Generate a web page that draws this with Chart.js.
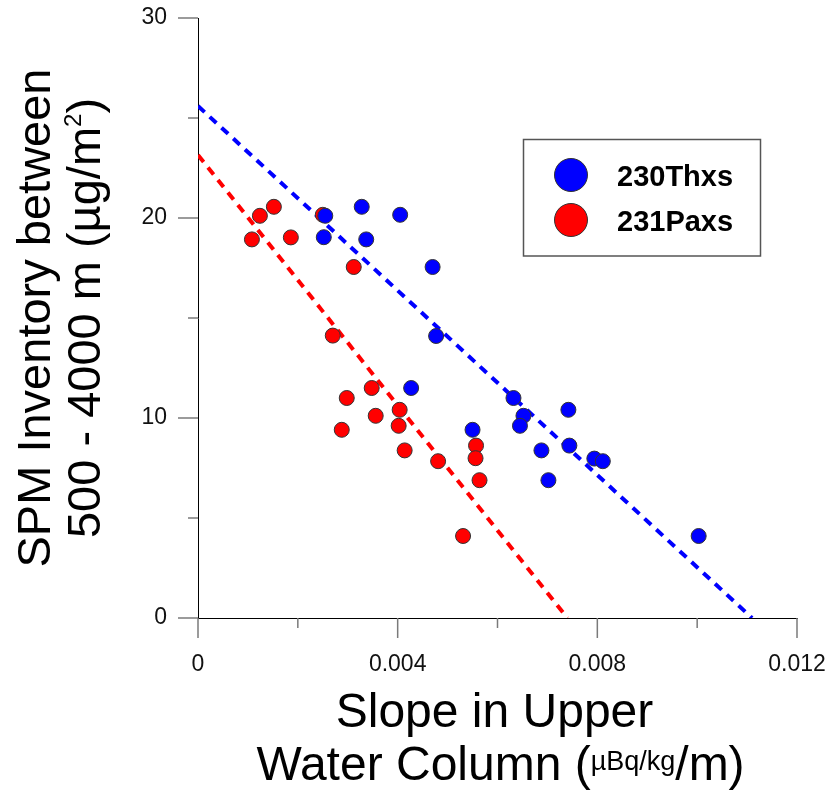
<!DOCTYPE html>
<html>
<head>
<meta charset="utf-8">
<script src="https://cdn.jsdelivr.net/npm/chart.js@4.4.1/dist/chart.umd.min.js"></script>
<style>
  html, body { margin: 0; padding: 0; background: #fff; }
  #wrap { width: 832px; height: 792px; }
</style>
</head>
<body>
<div id="wrap"><canvas id="chart" width="832" height="792"></canvas></div>
<script>
// 230Thxs points (slope, inventory)
const thX = [0.00255, 0.00328, 0.00405, 0.00252, 0.00337, 0.00470, 0.00477, 0.00427, 0.00550, 0.00632,
             0.00652, 0.00645, 0.00742, 0.00744, 0.00688, 0.00794, 0.00811, 0.00702, 0.01003];
const thY = [20.11, 20.56, 20.16, 19.04, 18.93, 17.55, 14.10, 11.50, 9.41, 11.00,
             10.11, 9.61, 10.41, 8.62, 8.38, 7.97, 7.84, 6.89, 4.10];

// 231Paxs points
const paX = [0.00124, 0.00152, 0.00108, 0.00186, 0.00250, 0.00312, 0.00270, 0.00298, 0.00348, 0.00356,
             0.00288, 0.00404, 0.00402, 0.00414, 0.00481, 0.00557, 0.00556, 0.00564, 0.00531];
const paY = [20.11, 20.56, 18.93, 19.03, 20.16, 17.55, 14.12, 11.00, 11.50, 10.11,
             9.41, 10.41, 9.61, 8.38, 7.84, 8.62, 7.99, 6.89, 4.10];

// fitted lines (end points)
const thFitX = [0, 0.0111];
const thFitY = [25.6, 0];
const paFitX = [0, 0.0074];
const paFitY = [23.15, 0];

// axes
const xMajor = [0, 0.004, 0.008, 0.012];
const xMinor = [0.002, 0.006, 0.010];
const xTickLabels = ['0', '0.004', '0.008', '0.012'];
const yMajor = [0, 10, 20, 30];
const yMinor = [5, 15, 25];
const yTickLabels = ['0', '10', '20', '30'];

const seriesNames = ['230Thxs', '231Paxs'];
const FONT = "Arial, 'Liberation Sans', sans-serif";

const pts = (xs, ys) => xs.map((x, i) => ({ x: x, y: ys[i] }));

// tick marks, axis titles and legend box
const decorPlugin = {
    id: 'decor',
    afterDraw(chart) {
        const ctx = chart.ctx;
        const xs = chart.scales.x, ys = chart.scales.y;
        const area = chart.chartArea;

        ctx.save();
        ctx.strokeStyle = '#7a7a7a';
        ctx.lineWidth = 1.5;
        const tick = (x1, y1, x2, y2) => {
            ctx.beginPath(); ctx.moveTo(x1, y1); ctx.lineTo(x2, y2); ctx.stroke();
        };
        xMajor.forEach(v => { const p = xs.getPixelForValue(v); tick(p, area.bottom, p, area.bottom + 20); });
        xMinor.forEach(v => { const p = xs.getPixelForValue(v); tick(p, area.bottom, p, area.bottom + 10); });
        yMajor.forEach(v => { const p = ys.getPixelForValue(v); tick(area.left, p, area.left - 20, p); });
        yMinor.forEach(v => { const p = ys.getPixelForValue(v); tick(area.left, p, area.left - 10, p); });
        ctx.restore();

        // y title (rotated)
        ctx.save();
        ctx.fillStyle = '#000';
        ctx.textBaseline = 'alphabetic';
        ctx.textAlign = 'left';
        const cy = (area.top + area.bottom) / 2;
        ctx.font = '47px ' + FONT;
        let w = ctx.measureText('SPM Inventory between').width;
        ctx.translate(50, cy);
        ctx.rotate(-Math.PI / 2);
        ctx.fillText('SPM Inventory between', -w / 2, 0);
        ctx.restore();

        ctx.save();
        ctx.fillStyle = '#000';
        ctx.textAlign = 'left';
        ctx.translate(100, cy);
        ctx.rotate(-Math.PI / 2);
        ctx.font = '47px ' + FONT;
        const a1 = '500 - 4000 m (\u00b5g/m', a3 = ')';
        const w1 = ctx.measureText(a1).width, w3 = ctx.measureText(a3).width;
        ctx.font = '24px ' + FONT;
        const w2 = ctx.measureText('2').width;
        let sx = -(w1 + w2 + w3) / 2;
        ctx.font = '47px ' + FONT;
        ctx.fillText(a1, sx, 0);
        ctx.font = '24px ' + FONT;
        ctx.fillText('2', sx + w1, -19);
        ctx.font = '47px ' + FONT;
        ctx.fillText(a3, sx + w1 + w2, 0);
        ctx.restore();

        // x title
        ctx.save();
        ctx.fillStyle = '#000';
        ctx.textAlign = 'left';
        const cx = (area.left + area.right) / 2;
        ctx.font = '48px ' + FONT;
        w = ctx.measureText('Slope in Upper').width;
        ctx.fillText('Slope in Upper', cx - 3 - w / 2, 727);
        const b1 = 'Water Column (', b2 = '\u00b5Bq/kg', b3 = '/m)';
        const v1 = ctx.measureText(b1).width, v3 = ctx.measureText(b3).width;
        ctx.font = '27px ' + FONT;
        const v2 = ctx.measureText(b2).width;
        sx = cx + 3 - (v1 + v2 + v3) / 2;
        ctx.font = '48px ' + FONT;
        ctx.fillText(b1, sx, 780);
        ctx.font = '27px ' + FONT;
        ctx.fillText(b2, sx + v1, 770);
        ctx.font = '48px ' + FONT;
        ctx.fillText(b3, sx + v1 + v2, 780);
        ctx.restore();

        // legend
        ctx.save();
        ctx.fillStyle = '#fff';
        ctx.strokeStyle = '#555';
        ctx.lineWidth = 1.5;
        ctx.fillRect(523.5, 139.5, 237, 116.5);
        ctx.strokeRect(523.5, 139.5, 237, 116.5);
        const cols = ['#0000ff', '#ff0000'];
        const rows = [175, 220];
        seriesNames.forEach((name, i) => {
            ctx.beginPath();
            ctx.arc(571, rows[i], 16.5, 0, Math.PI * 2);
            ctx.fillStyle = cols[i];
            ctx.fill();
            ctx.strokeStyle = '#333';
            ctx.lineWidth = 1;
            ctx.stroke();
            ctx.fillStyle = '#000';
            ctx.font = 'bold 29px ' + FONT;
            ctx.textBaseline = 'alphabetic';
            ctx.fillText(name, 617, rows[i] + 11);
        });
        ctx.restore();
    }
};

function makeChart() {
    const ctx = document.getElementById('chart').getContext('2d');
    new Chart(ctx, {
        type: 'scatter',
        data: {
            datasets: [
                {
                    label: seriesNames[0],
                    data: pts(thX, thY),
                    backgroundColor: '#0000ff',
                    borderColor: '#333',
                    borderWidth: 1,
                    pointRadius: 7.5,
                    order: 0
                },
                {
                    label: seriesNames[1],
                    data: pts(paX, paY),
                    backgroundColor: '#ff0000',
                    borderColor: '#333',
                    borderWidth: 1,
                    pointRadius: 7.5,
                    order: 1
                },
                {
                    type: 'line',
                    label: 'fit Th',
                    data: pts(thFitX, thFitY),
                    borderColor: '#0000ff',
                    borderWidth: 4,
                    borderDash: [9, 7],
                    pointRadius: 0,
                    fill: false,
                    order: 2
                },
                {
                    type: 'line',
                    label: 'fit Pa',
                    data: pts(paFitX, paFitY),
                    borderColor: '#ff0000',
                    borderWidth: 4,
                    borderDash: [9, 7],
                    pointRadius: 0,
                    fill: false,
                    order: 3
                }
            ]
        },
        options: {
            responsive: false,
            animation: false,
            layout: { padding: { top: 18, right: 35, left: 0, bottom: 0 } },
            plugins: {
                legend: { display: false },
                tooltip: { enabled: false }
            },
            scales: {
                x: {
                    type: 'linear',
                    min: 0,
                    max: 0.012,
                    afterFit: s => {
                        s.height = 174;
                        s.paddingLeft = 0; s.paddingRight = 0;
                    },
                    afterBuildTicks: s => { s.ticks = xMajor.map(v => ({ value: v })); },
                    grid: { display: true, drawOnChartArea: false, drawTicks: false },
                    border: { display: true, color: '#000', width: 1 },
                    ticks: {
                        padding: 33,
                        color: '#111',
                        font: { family: FONT, size: 23 },
                        maxRotation: 0,
                        callback: (v, i) => xTickLabels[i]
                    }
                },
                y: {
                    type: 'linear',
                    min: 0,
                    max: 30,
                    afterFit: s => {
                        s.width = 198;
                        s.paddingTop = 0; s.paddingBottom = 0;
                    },
                    afterBuildTicks: s => { s.ticks = yMajor.map(v => ({ value: v })); },
                    grid: { display: true, drawOnChartArea: false, drawTicks: false },
                    border: { display: true, color: '#000', width: 1 },
                    ticks: {
                        padding: 31,
                        color: '#111',
                        font: { family: FONT, size: 23 },
                        callback: (v, i) => yTickLabels[i]
                    }
                }
            }
        },
        plugins: [decorPlugin]
    });
}

makeChart();
</script>
</body>
</html>
